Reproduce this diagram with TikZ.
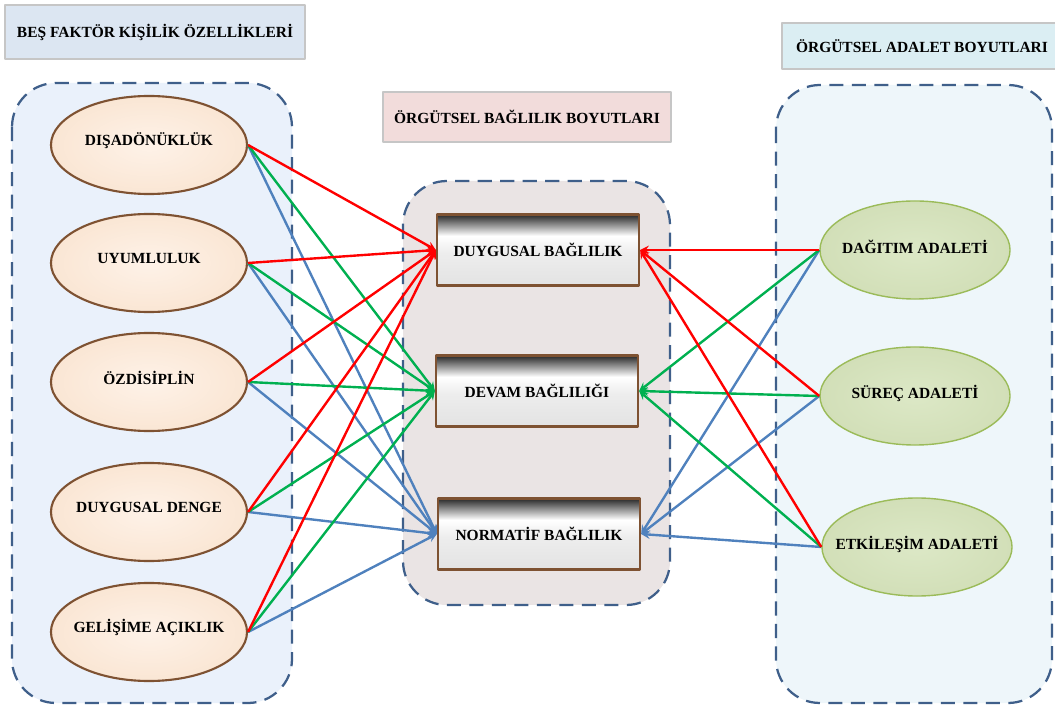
\documentclass[tikz,border=0pt]{standalone}
\usepackage{fontspec}
\setmainfont{Liberation Serif}
\usetikzlibrary{shapes.geometric}

\definecolor{kirmizi}{HTML}{FF0000}
\definecolor{yesil}{HTML}{00B050}
\definecolor{mavi}{HTML}{4F81BD}
\definecolor{cizgi}{HTML}{3F5F8A}
\definecolor{kahve}{HTML}{7E5232}
\definecolor{zeytin}{HTML}{9BBB59}

% kutular icin ustten koyu gecisli golge
\pgfdeclareverticalshading{kutugolge}{100bp}{color(0bp)=(gray!22); color(25bp)=(gray!22);
  color(48bp)=(gray!14); color(60bp)=(white); color(75bp)=(black!85); color(100bp)=(black!85)}

\tikzset{
  baslik/.style={draw=gray!45,line width=0.8pt,minimum height=1.35cm,inner sep=0pt},
  alan/.style={draw=cizgi,line width=1.6pt,dash pattern=on 10pt off 6pt,rounded corners=1.1cm},
  kisilik/.style={ellipse,draw=kahve,line width=1.5pt,inner color={rgb,255:red,254;green,242;blue,232},
    outer color={rgb,255:red,250;green,230;blue,212},minimum width=4.9cm,minimum height=2.45cm,inner sep=0pt},
  adalet/.style={ellipse,draw=zeytin,line width=1pt,inner color={rgb,255:red,220;green,232;blue,198},
    outer color={rgb,255:red,210;green,223;blue,184},minimum width=4.75cm,minimum height=2.45cm,inner sep=0pt},
  baglilik/.style={draw=kahve,line width=1.6pt,shading=kutugolge,minimum width=5.05cm,minimum height=1.78cm},
  ok/.style={->,line width=1.7pt}
}

\begin{document}
\begin{tikzpicture}[>=stealth,line join=round,x=0.025cm,y=-0.025cm,font=\fontsize{11}{13}\selectfont\bfseries]
	\useasboundingbox (0,0) rectangle (1055,708);
	
	% basliklar
	\node[baslik,fill={rgb,255:red,220;green,230;blue,242},minimum width=7.5cm] (bas1) at (155,32) {BEŞ FAKTÖR KİŞİLİK ÖZELLİKLERİ};
	\node[baslik,fill={rgb,255:red,242;green,220;blue,219},minimum width=7.2cm,minimum height=1.25cm] (bas2) at (527,117) {ÖRGÜTSEL BAĞLILIK BOYUTLARI};
	\node[baslik,fill={rgb,255:red,219;green,238;blue,243},minimum width=7cm,minimum height=1.15cm] (bas3) at (922,46) {ÖRGÜTSEL ADALET BOYUTLARI};
	
	% kesikli alanlar
	\draw[alan,fill={rgb,255:red,234;green,241;blue,251}] (12,83) rectangle (292,703);
	\draw[alan,fill={rgb,255:red,234;green,228;blue,228}] (403,181) rectangle (670,605);
	\draw[alan,fill={rgb,255:red,238;green,246;blue,250}] (776,85) rectangle (1052,703);
	
	% bes faktor
	\foreach \i/\y/\t in {1/145/DIŞADÖNÜKLÜK,2/263/UYUMLULUK,3/382/ÖZDİSİPLİN,4/512/DUYGUSAL DENGE,5/632/GELİŞİME AÇIKLIK}
		\node[kisilik,label={[yshift=3pt]center:\t}] (k\i) at (149,\y) {};
	
	% baglilik boyutlari
	\node[baglilik] (b1) at (538,250) {DUYGUSAL BAĞLILIK};
	\node[baglilik] (b2) at (537,391) {DEVAM BAĞLILIĞI};
	\node[baglilik] (b3) at (539,534) {NORMATİF BAĞLILIK};
	
	% adalet boyutlari
	\node[adalet,label={[yshift=2pt]center:DAĞITIM ADALETİ}] (a1) at (915,250) {};
	\node[adalet,label={[yshift=2pt]center:SÜREÇ ADALETİ}] (a2) at (915,396) {};
	\node[adalet,label={[yshift=2pt]center:ETKİLEŞİM ADALETİ}] (a3) at (917,547) {};
	
	% oklar
	\foreach \j/\c in {3/mavi,2/yesil,1/kirmizi}{
		\foreach \i in {1,...,5}
			\draw[ok,\c] (k\i.east) -- (b\j.west);
		\foreach \i in {1,2,3}
			\draw[ok,\c] (a\i.west) -- (b\j.east);
	}
\end{tikzpicture}
\end{document}
